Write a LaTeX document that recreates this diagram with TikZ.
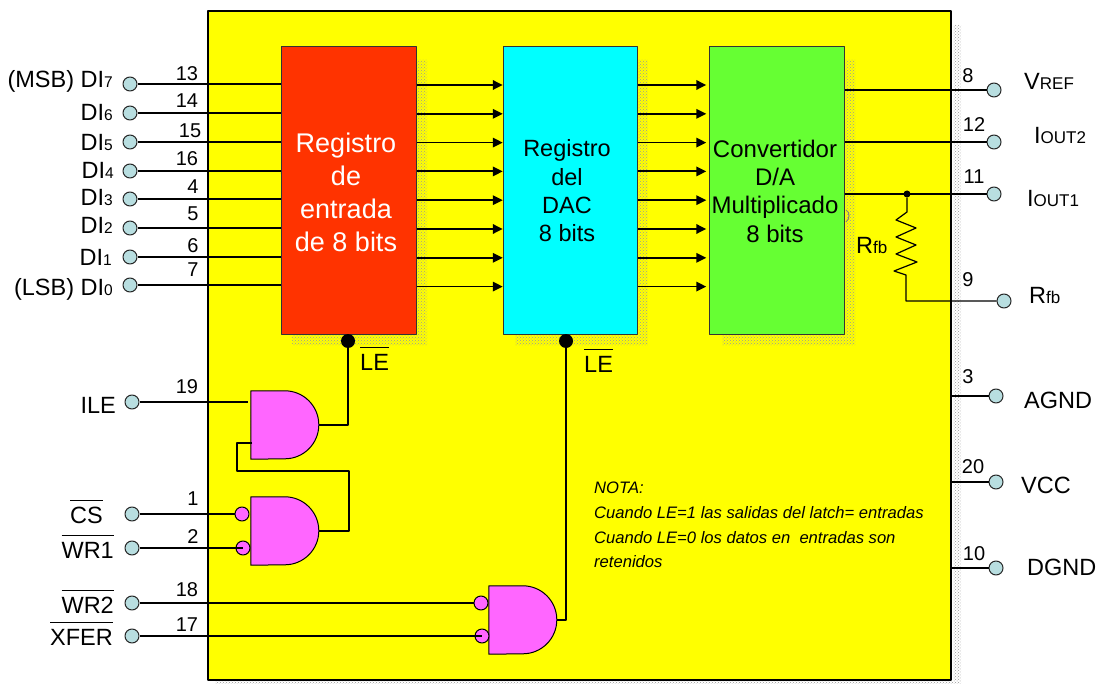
\documentclass[tikz,border=0pt]{standalone}
\usepackage{fontspec}
\setmainfont{Liberation Sans}
\usetikzlibrary{arrows.meta,patterns}
\definecolor{chipyellow}{HTML}{FFFF00}
\definecolor{regred}{HTML}{FF3300}
\definecolor{regcyan}{HTML}{00FFFF}
\definecolor{reggreen}{HTML}{66FF33}
\definecolor{gatepink}{HTML}{FF66FF}
\definecolor{pinblue}{HTML}{B8DEE0}
\newcommand{\sm}[1]{{\fontsize{15.5}{15.5}\selectfont #1}}
\newcommand{\smb}[1]{{\fontsize{17}{17}\selectfont #1}}
\newcommand{\ovl}[1]{$\overline{\rule{0pt}{21pt}\mbox{#1}}$}
\newcommand{\gatepath}[1]{(#1.north west) -- ++(34,0) arc[start angle=-90,end angle=90,radius=34] -- (#1.south west) -- cycle}
\tikzset{
	block/.style={draw=black!80,line width=1pt,minimum width=134.5pt,minimum height=287pt,inner sep=0pt},
	pinnode/.style={circle,draw=black!85,line width=1pt,fill=pinblue,minimum size=14pt,inner sep=0pt},
	bubble/.style={circle,draw=black,line width=1pt,fill=gatepink,minimum size=14pt,inner sep=0pt},
	bigdot/.style={circle,fill=black,minimum size=14pt,inner sep=0pt},
	andgate/.style={minimum width=68pt,minimum height=68pt,inner sep=0pt},
	dotshade/.style={pattern=crosshatch dots,pattern color=black!40},
	wire/.style={line width=1.2pt},
	bus/.style={line width=1.8pt,->,>={Triangle[length=10pt,width=9.5pt]}},
	lab/.style={font=\fontsize{23.5}{26}\selectfont,anchor=base east,inner sep=0pt},
	labw/.style={font=\fontsize{23.5}{26}\selectfont,anchor=base west,inner sep=0pt},
	num/.style={font=\fontsize{20}{22}\selectfont,anchor=base,inner sep=0pt},
}
\begin{document}
\begin{tikzpicture}[x=1pt,y=-1pt,line join=round]
	\useasboundingbox (0,0) rectangle (1099,684);
	\fill[dotshade] (953,25) rectangle (961,684) (215,681) rectangle (961,684);
	\node[draw=black,line width=1.2pt,fill=chipyellow,minimum width=743pt,minimum height=669pt,inner sep=0pt] (chip) at (579.5,345.5) {};
	% sombras de los bloques
	\foreach \xa/\xb in {292/417,515/638,722/845}{
		\fill[dotshade] (\xa,335) rectangle (\xb+10,345) (\xb,60) rectangle (\xb+10,345);
	}
	% entradas de datos
	\foreach \i/\y in {7/84,6/113,5/142,4/171,3/199,2/228,1/257,0/285}{
		\node[pinnode] (di\i) at (130,\y) {};
	}
	\node[block,fill=regred] (regin) at (349,190.5) {};
	\node[block,fill=regcyan] (regdac) at (570.5,190.5) {};
	\node[block,fill=reggreen] (conv) at (777,190.5) {};
	\draw[gray,line width=1pt] (846,210) .. controls (850,212) and (850,219) .. (846,222);
	\foreach \i in {7,6,...,0}{
		\draw[wire] (di\i) -- (di\i -| regin.west);
		\draw[bus] (regin.east |- 0,{85+(7-\i)*28.8}) -- (regdac.west |- 0,{85+(7-\i)*28.8});
		\draw[bus,shorten >=3pt] (regdac.east |- 0,{85+(7-\i)*28.8}) -- (conv.west |- 0,{85+(7-\i)*28.8});
	}
	\node[lab] (ldi7) at (113,88) {(MSB) DI\sm{7}};
	\node[lab] (ldi6) at (113,121) {DI\sm{6}};
	\node[lab] (ldi5) at (113,151) {DI\sm{5}};
	\node[lab] (ldi4) at (114,179) {DI\sm{4}};
	\node[lab] (ldi3) at (113,206) {DI\sm{3}};
	\node[lab] (ldi2) at (113,234) {DI\sm{2}};
	\node[lab] (ldi1) at (112,266) {DI\sm{1}};
	\node[lab] (ldi0) at (113,295) {(LSB) DI\sm{0}};
	\foreach \n/\x/\y in {13/187/81,14/187/108,15/190/138,16/187/166,4/193/194,5/193/221,6/193/253,7/193/277,19/187/393,1/193/505,2/193/543,18/187/596,17/187/631,8/968/83,12/974/132,11/974/184,9/968/287,3/968/383,20/973/473,10/974/560}{
		\node[num] (n\n) at (\x,\y) {\n};
	}
	% textos de los bloques
	\node[align=center,text=white,font=\fontsize{27}{33}\selectfont,inner sep=0pt] (treg) at (346,192) {Registro\\de\\entrada\\de 8 bits};
	\node[align=center,font=\fontsize{23.5}{28.3}\selectfont,inner sep=0pt] (tdac) at (567,191) {Registro\\del\\DAC\\8 bits};
	\node[align=center,font=\fontsize{24}{28.3}\selectfont,inner sep=0pt] (tconv) at (775,191) {Convertidor\\D/A\\Multiplicado\\8 bits};
	% compuertas
	\node[andgate] (gate1) at (285,425) {};
	\node[andgate] (gate2) at (285,531) {};
	\node[andgate] (gate3) at (523,620) {};
	\foreach \g in {gate1,gate2,gate3}{
		\fill[dotshade,shift={(8,8)}] \gatepath{\g};
	}
	\coordinate (ileend) at (248,402);
	\coordinate (inback) at (252,443);
	\coordinate (fbk) at (349,471);
	\coordinate (fold) at (237,471);
	\node[bigdot] (ledot) at (348,341) {};
	\node[bigdot] (dacdot) at (566,341) {};
	\draw[wire] (gate1.east) -| (ledot);
	\draw[wire] (gate3.east) -| (dacdot);
	\draw[wire] (gate2.east) -| (fbk) -- (fold) |- (inback);
	\foreach \g in {gate1,gate2,gate3}{
		\draw[fill=gatepink,line width=1pt] \gatepath{\g};
	}
	\draw[wire] (inback) -- ++(-15,0);
	\node[bubble] (bcs) at (242,514) {};
	\node[bubble] (bwra) at (243,548) {};
	\node[bubble] (bwrb) at (481,603) {};
	\node[bubble] (bxfer) at (482,636) {};
	\node[pinnode] (pile) at (132,402) {};
	\node[pinnode] (pcs) at (132,514) {};
	\node[pinnode] (pwra) at (132,548) {};
	\node[pinnode] (pwrb) at (132,603) {};
	\node[pinnode] (pxfer) at (132,636) {};
	\draw[wire] (pile) -- (ileend);
	\draw[wire] (pcs) -- (bcs);
	\draw[wire] (pwra) -- (bwra.center);
	\draw[wire] (pwrb) -- (bwrb);
	\draw[wire] (pxfer) -- (bxfer.center);
	\node[lab] (lile) at (116,413) {ILE};
	\node[lab] (lcs) at (103,523) {\ovl{CS}};
	\node[lab] (lwra) at (114,558) {\ovl{WR1}};
	\node[lab] (lwrb) at (114,613) {\ovl{WR2}};
	\node[lab] (lxfer) at (113,645) {\ovl{XFER}};
	\node[labw] (lea) at (360,370) {\ovl{LE}};
	\node[labw] (leb) at (584,372) {\ovl{LE}};
	% salidas
	\foreach \nm/\x/\y in {pvref/994/90,piob/994/142,pioa/994/194,prfb/1004/301,pagnd/996/396,pvcc/996/482,pdgnd/996/568}{
		\node[pinnode] (\nm) at (\x,\y) {};
	}
	\foreach \nm in {pvref,piob,pioa}{
		\draw[wire] (conv.east |- \nm) -- (\nm);
	}
	\foreach \nm in {pagnd,pvcc,pdgnd}{
		\draw[wire] (chip.east |- \nm) -- (\nm);
	}
	\node[circle,fill=black,minimum size=7pt,inner sep=0pt] (rdot) at (907,194) {};
	\draw[wire] (rdot) -- ++(0,18) -- ++(-11,8) -- ++(20,8) -- ++(-20,9) -- ++(20,8) -- ++(-20,9) -- ++(21,8) -- ++(-23,9) -- ++(12,4) |- (prfb);
	\node[labw] (lvref) at (1024,90) {V\smb{REF}};
	\node[labw] (liob) at (1034,144) {I\smb{OUT2}};
	\node[labw] (lioa) at (1027,207) {I\smb{OUT1}};
	\node[labw] (lrfb) at (1029,303) {R\smb{fb}};
	\node[labw] (lrfi) at (856,254) {R\smb{fb}};
	\node[labw] (lagnd) at (1024,408) {AGND};
	\node[labw] (lvcc) at (1021,493) {VCC};
	\node[labw] (ldgnd) at (1027,575) {DGND};
	% nota
	\node[align=left,anchor=north west,inner sep=0pt,font=\fontsize{16.6}{24.7}\selectfont\itshape] (nota) at (594,482) {NOTA:\\Cuando LE=1 las salidas del latch= entradas\\Cuando LE=0 los datos en\ \ entradas son\\retenidos};
\end{tikzpicture}
\end{document}
